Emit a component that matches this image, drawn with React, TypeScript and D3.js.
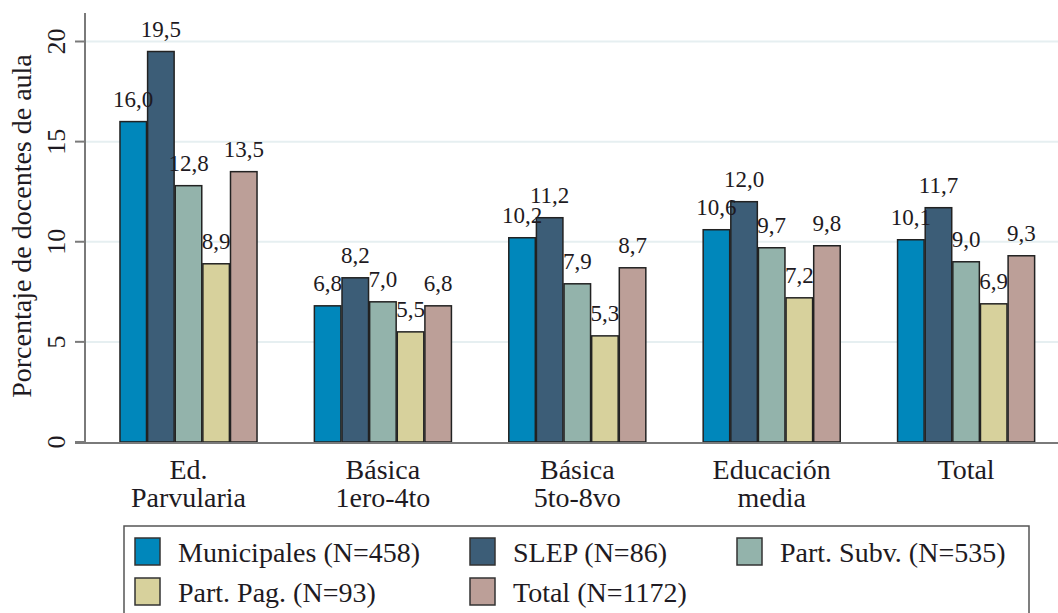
import React from 'react';
import * as d3 from 'd3';

// categories and series
const categories = [
  ['Ed.', 'Parvularia'],
  ['Básica', '1ero-4to'],
  ['Básica', '5to-8vo'],
  ['Educación', 'media'],
  ['Total'],
];
const seriesNames = [
  'Municipales (N=458)',
  'SLEP (N=86)',
  'Part. Subv. (N=535)',
  'Part. Pag. (N=93)',
  'Total (N=1172)',
];
const municipales = [16.0, 6.8, 10.2, 10.6, 10.1];
const slep = [19.5, 8.2, 11.2, 12.0, 11.7];
const partSubv = [12.8, 7.0, 7.9, 9.7, 9.0];
const partPag = [8.9, 5.5, 5.3, 7.2, 6.9];
const total = [13.5, 6.8, 8.7, 9.8, 9.3];
const yTicks = [0, 5, 10, 15, 20];
const colors = ['#0087bb', '#3c5d77', '#93b3ab', '#d7d19c', '#bc9f98'];

const series = [municipales, slep, partSubv, partPag, total];

const W = 1058;
const H = 613;
const font = "'Liberation Serif', 'Times New Roman', Times, 'DejaVu Serif', serif";
const ink = '#1e1a22';

const App = () => {
  const keys = categories.map(c => c.join(' '));

  // plot frame
  const left = 85;
  const top = 13;
  const bottom = 443;

  const y = d3.scaleLinear().domain([0, 20]).range([442, 41.5]);

  const step = 194.4;
  const x0 = d3
    .scaleBand()
    .domain(keys)
    .range([188.5 - step / 2, 188.5 - step / 2 + step * keys.length])
    .paddingInner(0.295)
    .paddingOuter(0.1475);

  const x1 = d3
    .scaleBand()
    .domain(seriesNames)
    .range([0, x0.bandwidth()])
    .paddingInner(0.04);

  const fmt = (v: number) => d3.format('.1f')(v).replace('.', ',');

  // legend layout
  const legX = [135, 470, 737];
  const legY = [538, 578];

  return (
    <svg
      width={W}
      height={H}
      style={{position: 'absolute', left: 0, top: 0, background: '#fff', fontFamily: font}}
    >
      {/* grid */}
      {yTicks.slice(1).map(t => (
        <line
          key={'g' + t}
          x1={left}
          x2={W}
          y1={y(t)}
          y2={y(t)}
          stroke="#e6eff1"
          strokeWidth={2}
        />
      ))}

      {/* bars */}
      {keys.map((k, i) => (
        <g key={k} transform={`translate(${x0(k)},0)`}>
          {series.map((s, j) => (
            <rect
              key={j}
              x={x1(seriesNames[j])}
              y={y(s[i])}
              width={x1.bandwidth()}
              height={y(0) - y(s[i])}
              fill={colors[j]}
              stroke="#222"
              strokeWidth={1.5}
            />
          ))}
        </g>
      ))}

      {/* value labels */}
      {keys.map((k, i) =>
        series.map((s, j) => (
          <text
            key={k + j}
            x={(x0(k) as number) + (x1(seriesNames[j]) as number) + x1.bandwidth() / 2}
            y={y(s[i]) - 15}
            textAnchor="middle"
            style={{fontFamily: font}}
            fontSize={23}
            fill={ink}
          >
            {fmt(s[i])}
          </text>
        ))
      )}

      {/* axes */}
      <line x1={left} x2={left} y1={top} y2={bottom} stroke="#7a7a7a" strokeWidth={2} />
      <line x1={75} x2={W} y1={bottom} y2={bottom} stroke="#7a7a7a" strokeWidth={2} />
      {yTicks.map(t => (
        <g key={'t' + t}>
          <line x1={75} x2={left} y1={y(t)} y2={y(t)} stroke="#7a7a7a" strokeWidth={2} />
          <text
            transform={`translate(65,${y(t)}) rotate(-90)`}
            textAnchor="middle"
            style={{fontFamily: font}}
            fontSize={26}
            fill={ink}
          >
            {t}
          </text>
        </g>
      ))}
      <text
        transform={`translate(31,226) rotate(-90)`}
        textAnchor="middle"
        style={{fontFamily: font}}
        fontSize={28}
        fill={ink}
      >
        Porcentaje de docentes de aula
      </text>

      {/* category labels */}
      {categories.map((c, i) =>
        c.map((line, li) => (
          <text
            key={keys[i] + li}
            x={(x0(keys[i]) as number) + x0.bandwidth() / 2}
            y={479 + li * 28}
            textAnchor="middle"
            style={{fontFamily: font}}
            fontSize={28}
            fill={ink}
          >
            {line}
          </text>
        ))
      )}

      {/* legend */}
      <rect x={124} y={526} width={905} height={100} fill="#fff" stroke="#555" strokeWidth={1.5} />
      {seriesNames.map((n, j) => {
        const col = j % 3;
        const row = Math.floor(j / 3);
        return (
          <g key={n}>
            <rect
              x={legX[col]}
              y={legY[row]}
              width={25}
              height={27}
              fill={colors[j]}
              stroke="#333"
              strokeWidth={1.5}
            />
            <text
              x={legX[col] + 43}
              y={legY[row] + 24}
              style={{fontFamily: font}}
              fontSize={28}
              fill={ink}
            >
              {n}
            </text>
          </g>
        );
      })}
    </svg>
  );
};

export default App;
